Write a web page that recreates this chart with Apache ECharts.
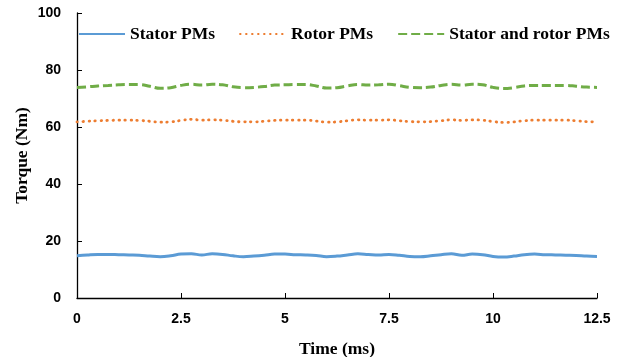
<!DOCTYPE html>
<html><head><meta charset="utf-8">
<script src="https://cdn.jsdelivr.net/npm/echarts@6/dist/echarts.min.js"></script>
<style>html,body{margin:0;padding:0;background:#fff}#c{width:624px;height:357px}</style>
</head><body><div id="c"></div>
<script>
var timeMs = [0,0.25,0.5,0.75,1,1.25,1.5,1.75,2,2.25,2.5,2.75,3,3.25,3.5,3.75,4,4.25,4.5,4.75,5,5.25,5.5,5.75,6,6.25,6.5,6.75,7,7.25,7.5,7.75,8,8.25,8.5,8.75,9,9.25,9.5,9.75,10,10.25,10.5,10.75,11,11.25,11.5,11.75,12,12.25,12.5];
var statorPMs = [14.8,15.1,15.3,15.3,15.2,15.1,15.0,14.7,14.5,14.8,15.4,15.5,15.1,15.5,15.3,14.8,14.5,14.7,15.0,15.4,15.4,15.2,15.1,14.9,14.5,14.7,15.1,15.5,15.3,15.1,15.3,15.0,14.6,14.5,14.8,15.2,15.5,15.0,15.4,15.2,14.6,14.4,14.7,15.2,15.4,15.2,15.1,15.0,14.9,14.7,14.6];
var rotorPMs = [61.8,62.0,62.2,62.3,62.4,62.4,62.3,62.0,61.7,61.8,62.3,62.7,62.4,62.5,62.4,62.0,61.8,61.8,62.0,62.3,62.4,62.4,62.4,62.1,61.7,61.8,62.2,62.5,62.4,62.4,62.5,62.2,61.9,61.8,61.9,62.2,62.5,62.3,62.5,62.4,61.9,61.6,61.8,62.2,62.4,62.4,62.4,62.4,62.2,61.9,61.8];
var bothPMs = [73.9,74.1,74.4,74.6,74.8,74.9,74.9,74.3,73.6,73.8,74.6,75.0,74.7,75.0,74.8,74.1,73.8,73.9,74.2,74.7,74.8,74.9,74.9,74.4,73.7,73.8,74.4,74.9,74.7,74.8,75.0,74.5,73.9,73.8,74.0,74.6,75.0,74.7,75.0,74.8,73.9,73.5,73.8,74.4,74.6,74.6,74.6,74.6,74.3,74.0,73.9];
var seriesNames = ['Stator PMs','Rotor PMs','Stator and rotor PMs'];
var xTicks = {min:0, max:12.5, interval:2.5};
var yTicks = {min:0, max:100, interval:20};

function pairs(v){ return timeMs.map(function(t,i){return [t,v[i]];}); }
var chart = echarts.init(document.getElementById('c'));
var serif = '"Liberation Serif","Times New Roman",serif';
var sans = '"Liberation Sans",Arial,sans-serif';
chart.setOption({
  animation:false,
  grid:{left:77,right:27,top:13,bottom:59,outerBoundsMode:'none',containLabel:false},
  legend:{top:25,left:78,padding:0,itemWidth:46,itemHeight:18,itemGap:24,
    itemStyle:{opacity:0},
    textStyle:{fontFamily:serif,fontWeight:'bold',fontSize:17.5,color:'#000'},
    data:seriesNames},
  xAxis:{type:'value',min:xTicks.min,max:xTicks.max,interval:xTicks.interval,
    name:'Time (ms)',nameLocation:'middle',nameGap:42,nameMoveOverlap:false,
    nameTextStyle:{fontFamily:serif,fontWeight:'bold',fontSize:17.5,color:'#000'},
    axisLine:{lineStyle:{color:'#000',width:1.3}},
    axisTick:{inside:true,length:5,lineStyle:{color:'#000'}},
    axisLabel:{margin:14,fontFamily:sans,fontWeight:'bold',fontSize:14,color:'#000'},
    splitLine:{show:false}},
  yAxis:{type:'value',min:yTicks.min,max:yTicks.max,interval:yTicks.interval,
    name:'Torque (Nm)',nameLocation:'middle',nameGap:46,nameMoveOverlap:false,
    nameTextStyle:{fontFamily:serif,fontWeight:'bold',fontSize:17.5,color:'#000'},
    axisLine:{show:true,lineStyle:{color:'#000',width:1.3}},
    axisTick:{show:true,inside:true,length:5,lineStyle:{color:'#000'}},
    axisLabel:{margin:16,fontFamily:sans,fontWeight:'bold',fontSize:14,color:'#000'},
    splitLine:{show:false}},
  series:[
    {name:seriesNames[0],type:'line',data:pairs(statorPMs),smooth:0.4,symbol:'none',
     itemStyle:{color:'#5B9BD5'},lineStyle:{color:'#5B9BD5',width:3}},
    {name:seriesNames[1],type:'line',data:pairs(rotorPMs),smooth:0.4,symbol:'none',
     itemStyle:{color:'#ED7D31'},lineStyle:{color:'#ED7D31',width:2.8,type:[0.5,5.5],cap:'round'}},
    {name:seriesNames[2],type:'line',data:pairs(bothPMs),smooth:0.4,symbol:'none',
     itemStyle:{color:'#70AD47'},lineStyle:{color:'#70AD47',width:3,type:[9,4]}}
  ]
});
</script></body></html>
